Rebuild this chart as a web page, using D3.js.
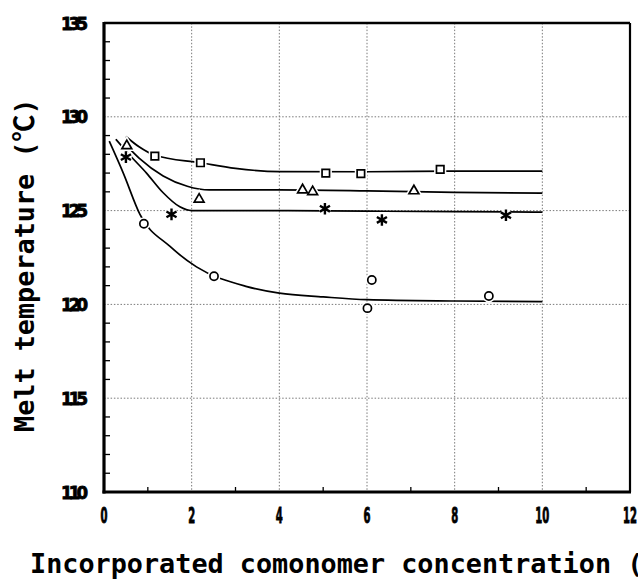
<!DOCTYPE html>
<html>
<head>
<meta charset="utf-8">
<script src="https://cdn.jsdelivr.net/npm/d3@7"></script>
<style>
  html, body { margin: 0; padding: 0; background: #fff; }
  svg { display: block; }
</style>
</head>
<body>
<svg id="chart" width="638" height="579"></svg>
<script>
// ---- data ----
const xTicks = [0, 2, 4, 6, 8, 10, 12];
const yTicks = [110, 115, 120, 125, 130, 135];
const xGrid = [2, 4, 6, 8, 10];
const yGrid = [115, 120, 125, 130];
const xMinor = [1, 3, 5, 7, 9, 11];
const yMinor = [111,112,113,114,116,117,118,119,121,122,123,124,126,127,128,129,131,132,133,134];

const squarePts   = [[1.16,127.9],[2.2,127.55],[5.06,127.0],[5.86,126.97],[7.67,127.2]];
const trianglePts = [[0.52,128.45],[2.17,125.6],[4.53,126.1],[4.76,126.0],[7.07,126.05]];
const starPts     = [[0.5,127.85],[1.54,124.8],[5.04,125.1],[6.34,124.5],[9.17,124.75]];
const circlePts   = [[0.91,124.3],[2.51,121.5],[6.11,121.3],[6.01,119.8],[8.78,120.45]];

const squareCurve   = [[0.5,128.95],[0.8,128.4],[1.16,127.95],[2.2,127.55],[3,127.25],[4,127.08],[6,127.07],[8,127.1],[10,127.1]];
const triangleCurve = [[0.52,128.45],[0.8,127.8],[1.35,126.85],[1.9,126.3],[2.4,126.1],[4,126.1],[6,126.05],[8,125.97],[10,125.93]];
const starCurve     = [[0.27,128.8],[0.59,127.95],[0.97,127.0],[1.35,125.95],[1.73,125.2],[2.0,125.0],[4,125.0],[6,124.97],[8,124.95],[10,124.92]];
const circleCurve   = [[0.12,128.7],[0.44,127.0],[0.82,124.8],[1.5,123.1],[2.11,122.0],[3.26,120.95],[4,120.6],[5,120.4],[6,120.25],[8,120.18],[10,120.15]];

const xTitle = "Incorporated comonomer concentration (mol%)";
const yTitleMain = "Melt temperature (";
const yTitleUnit = "℃";
const yTitleEnd = ")";

// ---- drawing ----
const svg = d3.select("#chart");
const x = d3.scaleLinear().domain([0, 12]).range([104, 630]);
const y = d3.scaleLinear().domain([110, 135]).range([492, 23]);

// grid
const grid = svg.append("g").attr("stroke", "#7a7a7a").attr("stroke-width", 1).attr("stroke-dasharray", "1.5,1.8");
grid.selectAll(".gx").data(xGrid).enter().append("line")
  .attr("x1", d => x(d)).attr("x2", d => x(d)).attr("y1", y(135)).attr("y2", y(110));
grid.selectAll(".gy").data(yGrid).enter().append("line")
  .attr("x1", x(0)).attr("x2", x(12)).attr("y1", d => y(d)).attr("y2", d => y(d));

// curves
const line = d3.line().x(d => x(d[0])).y(d => y(d[1])).curve(d3.curveMonotoneX);
svg.append("g").attr("fill", "none").attr("stroke", "#000").attr("stroke-width", 1.7)
  .selectAll("path").data([squareCurve, triangleCurve, starCurve, circleCurve]).enter()
  .append("path").attr("d", line);

// markers
function drawMarkers(pts, type, size, fill, sw) {
  const sym = d3.symbol().type(type).size(size);
  const g = svg.append("g");
  g.selectAll(".halo").data(pts).enter().append("path")
    .attr("d", sym).attr("transform", d => `translate(${x(d[0])},${y(d[1])})`)
    .attr("fill", "#fff").attr("stroke", "#fff").attr("stroke-width", sw + 3);
  g.selectAll(".mk").data(pts).enter().append("path")
    .attr("d", sym).attr("transform", d => `translate(${x(d[0])},${y(d[1])})`)
    .attr("fill", fill).attr("stroke", "#000").attr("stroke-width", sw);
}
drawMarkers(squarePts, d3.symbolSquare, 56, "#fff", 1.7);
drawMarkers(trianglePts, d3.symbolTriangle, 42, "#fff", 1.7);
drawMarkers(circlePts, d3.symbolCircle, 52, "#fff", 1.7);
drawMarkers(starPts, d3.symbolAsterisk, 95, "none", 2.4);

// minor ticks
const ticks = svg.append("g").attr("stroke", "#000").attr("stroke-width", 1.3);
ticks.selectAll(".ym").data(yMinor).enter().append("line")
  .attr("x1", x(0)).attr("x2", x(0) + 6).attr("y1", d => y(d)).attr("y2", d => y(d));
ticks.selectAll(".xm").data(xMinor).enter().append("line")
  .attr("x1", d => x(d)).attr("x2", d => x(d)).attr("y1", y(110)).attr("y2", y(110) - 5);

// frame
svg.append("line").attr("x1", x(0)).attr("x2", x(12)).attr("y1", y(135)).attr("y2", y(135)).attr("stroke", "#000").attr("stroke-width", 2.4);
svg.append("line").attr("x1", x(12)).attr("x2", x(12)).attr("y1", y(135)).attr("y2", y(110)).attr("stroke", "#000").attr("stroke-width", 2.2);
svg.append("line").attr("x1", x(0)).attr("x2", x(0)).attr("y1", y(135) - 1).attr("y2", y(110) + 1.5).attr("stroke", "#000").attr("stroke-width", 3.2);
svg.append("line").attr("x1", x(0) - 1.5).attr("x2", x(12) + 1).attr("y1", y(110)).attr("y2", y(110)).attr("stroke", "#000").attr("stroke-width", 3);

// tick labels
const tickFont = "'Liberation Sans Narrow', 'DejaVu Sans Condensed', sans-serif";
svg.append("g").selectAll("text").data(yTicks).enter().append("text")
  .attr("x", 88).attr("y", d => y(d) + 6.5)
  .attr("text-anchor", "end")
  .attr("font-family", tickFont).attr("font-weight", "bold").attr("font-size", 18.5)
  .attr("stroke", "#000").attr("stroke-width", 0.8)
  .attr("textLength", 27).attr("lengthAdjust", "spacing")
  .text(d => d);
svg.append("g").selectAll("text").data(xTicks).enter().append("text")
  .attr("x", d => x(d)).attr("y", 523)
  .attr("text-anchor", "middle")
  .attr("font-family", tickFont).attr("font-weight", "bold").attr("font-size", 22)
  .attr("stroke", "#000").attr("stroke-width", 0.9)
  .attr("textLength", d => String(d).length * 7).attr("lengthAdjust", "spacingAndGlyphs")
  .text(d => d);

// axis titles (monospaced cell layout)
const titleFont = "'DejaVu Sans Mono', 'Noto Sans CJK JP', monospace";
const adv = 16.14;
svg.append("text")
  .attr("x", Array.from(xTitle, (c, i) => (30 + i * adv).toFixed(2)).join(" "))
  .attr("y", 573)
  .attr("font-family", titleFont).attr("font-weight", "bold").attr("font-size", 26.8)
  .text(xTitle);

const yChars = Array.from(yTitleMain + yTitleUnit + yTitleEnd);
const yPos = [];
let p = -432;
yChars.forEach((c, i) => { yPos.push(p.toFixed(2)); p += (c === yTitleUnit ? 27 : adv); });
svg.append("text")
  .attr("transform", "translate(34,0) rotate(-90)")
  .attr("x", yPos.join(" "))
  .attr("y", 0)
  .attr("font-family", titleFont).attr("font-weight", "bold").attr("font-size", 26.8)
  .text(yTitleMain + yTitleUnit + yTitleEnd);
</script>
</body>
</html>
